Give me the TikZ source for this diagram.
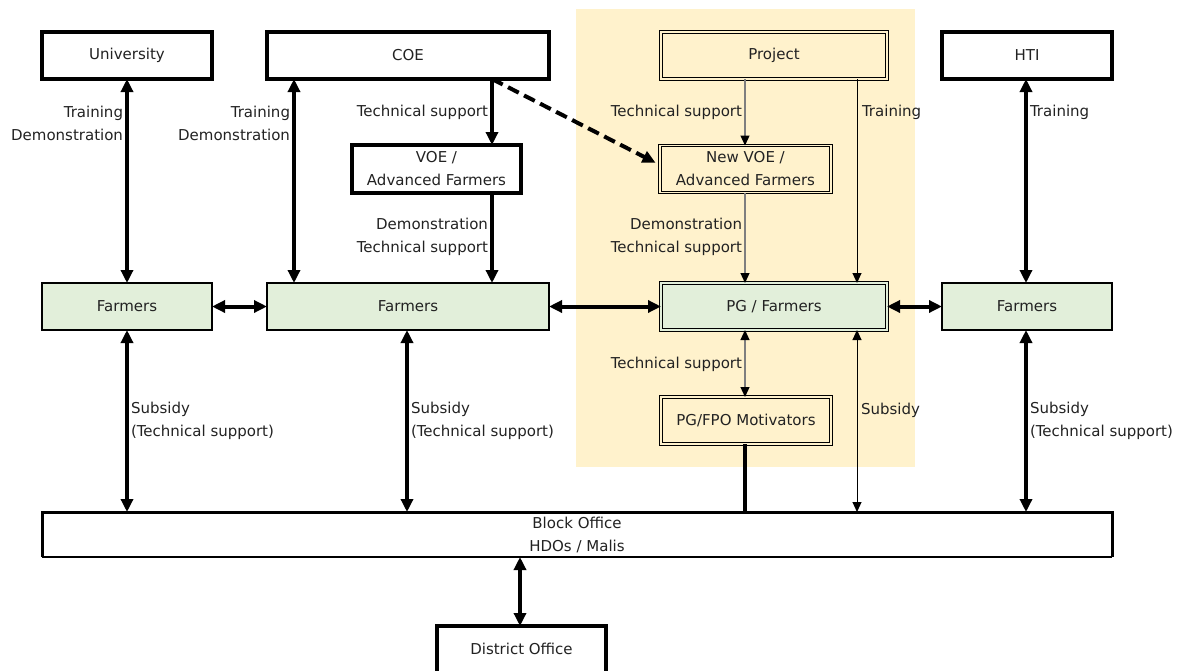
\documentclass[tikz,border=0pt]{standalone}
\usepackage{fontspec}
\setmainfont{DejaVu Sans}
\usetikzlibrary{arrows.meta,calc}
\definecolor{cream}{HTML}{FFF2CC}
\definecolor{leaf}{HTML}{E2EFDA}
\definecolor{ink}{HTML}{222222}
\definecolor{greyline}{HTML}{7F7F7F}

\begin{document}
\begin{tikzpicture}[x=1pt,y=-1pt,
  every node/.style={font=\fontsize{15}{23}\selectfont, text=ink, inner sep=0pt, outer sep=0pt},
  plainbox/.style={draw=black, line width=3.2pt, fill=white, minimum height=47pt},
  farmbox/.style={draw=black, line width=1.3pt, fill=leaf, minimum height=47pt},
  projbox/.style={draw=black, line width=1.1pt, double=cream, double distance=1.6pt, fill=cream, minimum height=47pt},
  pgbox/.style={projbox, double=leaf, fill=leaf},
  heavy/.style={draw=black, line width=4pt},
  heavyone/.style={heavy, -{Triangle[length=13pt,width=12pt]}},
  heavytwo/.style={heavy, {Triangle[length=13pt,width=12pt]}-{Triangle[length=13pt,width=12pt]}},
  thinone/.style={line width=1.2pt, -{Triangle[length=10pt,width=9pt,color=black]}},
  thintwo/.style={line width=1.2pt, {Triangle[length=10pt,width=9pt,color=black]}-{Triangle[length=10pt,width=9pt,color=black]}},
  lblL/.style={anchor=east, align=right},
  lblR/.style={anchor=west, align=left}
]
\useasboundingbox (0,0) rectangle (1187,670);

% project area
\fill[cream] (576,9) rectangle (915,467);

% top row
\node[plainbox, minimum width=170pt] (univ) at (127,55.5) {University};
\node[plainbox, minimum width=282pt] (coe)  at (408,55.5) {COE};
\node[projbox,  minimum width=226pt] (proj) at (774,55.5) {Project};
\node[plainbox, minimum width=170pt] (hti)  at (1027,55.5) {HTI};

% VOE row
\node[plainbox, minimum width=169pt, minimum height=48pt, align=center] (voe) at (436.5,169) {VOE /\\Advanced Farmers};
\node[projbox, minimum width=171pt, align=center] (nvoe) at (745.5,169) {New VOE /\\Advanced Farmers};

% farmers row
\node[farmbox, minimum width=170pt] (f1) at (127,306.5) {Farmers};
\node[farmbox, minimum width=282pt] (f2) at (408,306.5) {Farmers};
\node[pgbox,   minimum width=226pt] (pg) at (774,306.5) {PG / Farmers};
\node[farmbox, minimum width=170pt] (f4) at (1027,306.5) {Farmers};

% motivators
\node[projbox, line width=1.3pt, minimum width=170pt] (mot) at (746,420.5) {PG/FPO Motivators};

% offices
\node[fill=white, minimum width=1070pt, minimum height=45pt, align=center] (block) at (577,534.5) {Block Office\\HDOs / Malis};
\draw[line width=3pt] (block.south west) |- (block.north east) -- (block.south east);
\draw[line width=1.5pt] (block.south west) -- (block.south east);
\node[plainbox, minimum width=169pt, minimum height=54pt, text depth=8pt] (dist) at (521.5,653) {District Office};

% connector columns
\coordinate (xb) at (294,0);
\coordinate (xc) at (492,0);
\coordinate (xp) at (745,0);
\coordinate (xt) at (857,0);
\coordinate (xh) at (1026,0);
\coordinate (xf) at (407,0);
\coordinate (xd) at (520,0);

% top connectors
\draw[heavytwo] (univ.south) -- (f1.north);
\draw[heavytwo] (coe.south -| xb) -- (f2.north -| xb);
\draw[heavyone] (coe.south -| xc) -- (voe.north -| xc);
\draw[heavyone] (voe.south -| xc) -- (f2.north -| xc);
\draw[heavy, dash pattern=on 12pt off 6pt, -{Triangle[length=13pt,width=12pt]}, shorten >=5pt]
  (coe.south -| xc) -- ($(nvoe.west)+(0,-4)$);
\draw[thinone, greyline] (proj.south -| xp) -- (nvoe.north -| xp);
\draw[thinone, greyline] (nvoe.south -| xp) -- (pg.north -| xp);
\draw[thinone, black, line width=1pt] (proj.south -| xt) -- (pg.north -| xt);
\draw[heavytwo] (hti.south -| xh) -- (f4.north -| xh);

% farmer links
\draw[heavytwo] (f1.east) -- (f2.west);
\draw[heavytwo] (f2.east) -- (pg.west);
\draw[heavytwo] (pg.east) -- (f4.west);

% lower connectors
\draw[heavytwo] (f1.south) -- (block.north -| f1.south);
\draw[heavytwo] (f2.south -| xf) -- (block.north -| xf);
\draw[thintwo, greyline] (pg.south -| xp) -- (mot.north -| xp);
\draw[line width=3.5pt] (mot.south -| xp) -- (block.north -| xp);
\draw[thintwo, black, line width=1pt] (pg.south -| xt) -- (block.north -| xt);
\draw[heavytwo] (f4.south -| xh) -- (block.north -| xh);
\draw[heavytwo] (block.south -| xd) -- (dist.north -| xd);

% labels
\node[lblL] (l1) at (123,123.5) {Training\\Demonstration};
\node[lblL] (l2) at (290,123.5) {Training\\Demonstration};
\node[lblL] (l3) at (488,112) {Technical support};
\node[lblL] (l4) at (488,237) {Demonstration\\Technical support};
\node[lblL] (l5) at (742,112) {Technical support};
\node[lblR] (l6) at (862,112) {Training};
\node[lblL] (l7) at (742,237) {Demonstration\\Technical support};
\node[lblR] (l8) at (1030,112) {Training};
\node[lblL] (l9) at (742,364) {Technical support};
\node[lblR] (l10) at (131,421) {Subsidy\\(Technical support)};
\node[lblR] (l11) at (411,421) {Subsidy\\(Technical support)};
\node[lblR] (l12) at (861,410) {Subsidy};
\node[lblR] (l13) at (1030,421) {Subsidy\\(Technical support)};
\end{tikzpicture}
\end{document}
